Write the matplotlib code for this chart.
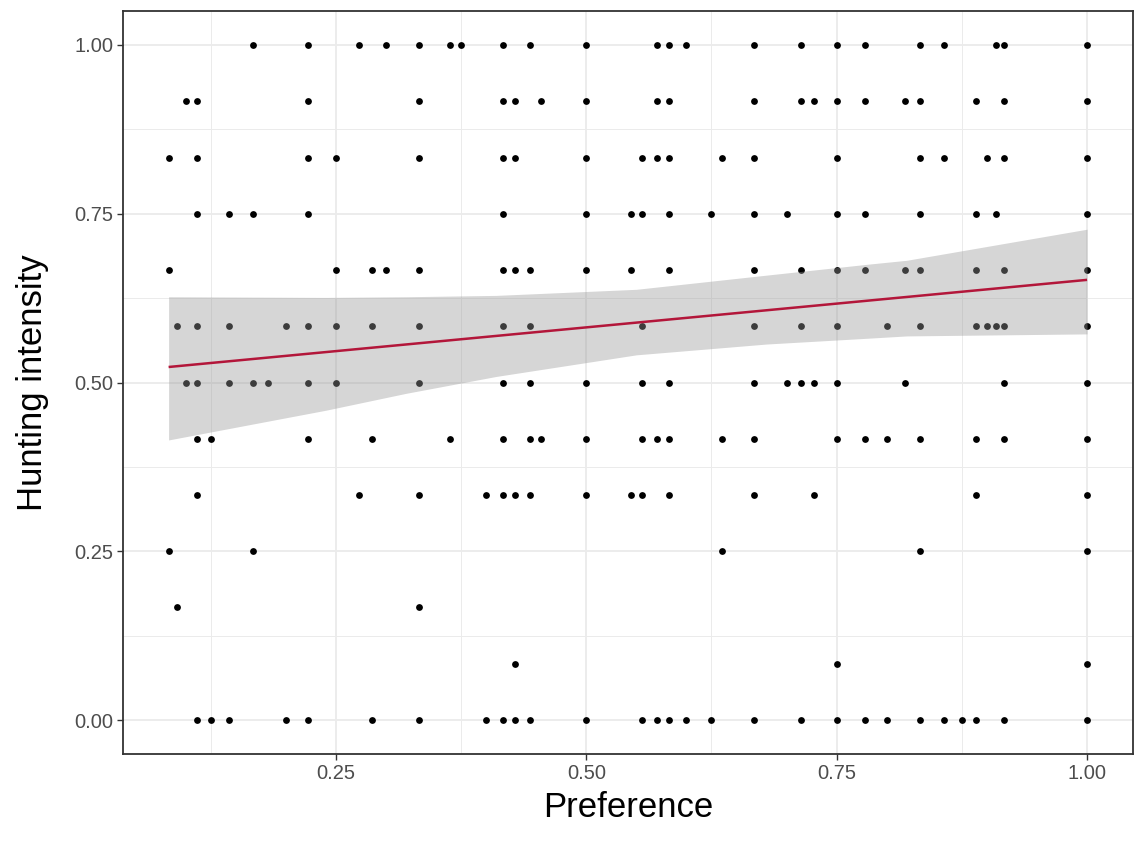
import numpy as np
import matplotlib
matplotlib.use("Agg")
import matplotlib.pyplot as plt
from matplotlib.ticker import MultipleLocator

plt.rcParams['font.family'] = ['Liberation Sans', 'DejaVu Sans']

# ---- data: Preference (x) values observed at each Hunting intensity level (y) ----
x_at_1000 = [0.167, 0.222, 0.273, 0.3, 0.333, 0.364, 0.375, 0.417, 0.444, 0.5, 0.571, 0.583,
             0.6, 0.667, 0.714, 0.75, 0.778, 0.833, 0.857, 0.909, 0.917, 1.0]
x_at_0917 = [0.1, 0.111, 0.222, 0.333, 0.417, 0.429, 0.455, 0.5, 0.571, 0.583, 0.667, 0.714,
             0.727, 0.75, 0.778, 0.818, 0.833, 0.889, 0.917, 1.0]
x_at_0833 = [0.083, 0.111, 0.222, 0.25, 0.333, 0.417, 0.429, 0.5, 0.556, 0.571, 0.583, 0.636,
             0.667, 0.75, 0.833, 0.857, 0.9, 0.917, 1.0]
x_at_0750 = [0.111, 0.143, 0.167, 0.222, 0.417, 0.5, 0.545, 0.556, 0.583, 0.625, 0.667, 0.7,
             0.75, 0.778, 0.833, 0.889, 0.909, 1.0]
x_at_0667 = [0.083, 0.25, 0.286, 0.3, 0.333, 0.417, 0.429, 0.444, 0.5, 0.545, 0.583, 0.667,
             0.714, 0.75, 0.778, 0.818, 0.833, 0.889, 0.917, 1.0]
x_at_0583 = [0.091, 0.111, 0.143, 0.2, 0.222, 0.25, 0.286, 0.333, 0.417, 0.444, 0.556, 0.667,
             0.714, 0.75, 0.8, 0.833, 0.889, 0.9, 0.909, 0.917, 1.0]
x_at_0500 = [0.1, 0.111, 0.143, 0.167, 0.182, 0.222, 0.25, 0.333, 0.417, 0.444, 0.5, 0.556,
             0.583, 0.667, 0.7, 0.714, 0.727, 0.75, 0.818, 0.917, 1.0]
x_at_0417 = [0.111, 0.125, 0.222, 0.286, 0.364, 0.417, 0.444, 0.455, 0.5, 0.556, 0.571, 0.583,
             0.636, 0.667, 0.75, 0.778, 0.8, 0.833, 0.889, 0.917, 1.0]
x_at_0333 = [0.111, 0.273, 0.333, 0.4, 0.417, 0.429, 0.444, 0.5, 0.545, 0.556, 0.583, 0.667,
             0.727, 0.889, 1.0]
x_at_0250 = [0.083, 0.167, 0.636, 0.833, 1.0]
x_at_0167 = [0.091, 0.333]
x_at_0083 = [0.429, 0.75, 1.0]
x_at_0000 = [0.111, 0.125, 0.143, 0.2, 0.222, 0.286, 0.333, 0.4, 0.417, 0.429, 0.444, 0.5,
             0.556, 0.571, 0.583, 0.6, 0.625, 0.667, 0.714, 0.75, 0.778, 0.8, 0.833, 0.857,
             0.875, 0.889, 0.917, 1.0]

intensity_levels = [1.0, 0.917, 0.833, 0.75, 0.667, 0.583, 0.5, 0.417, 0.333, 0.25, 0.167, 0.083, 0.0]
rows = [x_at_1000, x_at_0917, x_at_0833, x_at_0750, x_at_0667, x_at_0583, x_at_0500,
        x_at_0417, x_at_0333, x_at_0250, x_at_0167, x_at_0083, x_at_0000]

# fitted linear trend and its confidence band
fit_x = [0.083, 1.0]
fit_y = [0.523, 0.652]
band_x = [0.083, 0.24, 0.32, 0.41, 0.55, 0.68, 0.78, 0.82, 1.0]
band_upper = [0.627, 0.626, 0.627, 0.629, 0.638, 0.659, 0.675, 0.681, 0.727]
band_lower = [0.415, 0.459, 0.484, 0.509, 0.541, 0.557, 0.5655, 0.569, 0.572]

x_ticks = [0.25, 0.50, 0.75, 1.00]
y_ticks = [0.00, 0.25, 0.50, 0.75, 1.00]
x_tick_labels = ["0.25", "0.50", "0.75", "1.00"]
y_tick_labels = ["0.00", "0.25", "0.50", "0.75", "1.00"]

# ---- figure ----
px_x = np.concatenate([np.asarray(r, float) for r in rows])
px_y = np.concatenate([np.full(len(r), lvl) for r, lvl in zip(rows, intensity_levels)])

fig = plt.figure(figsize=(11.36, 8.48), dpi=100)
ax = fig.add_axes([0.1083, 0.1108, 0.889, 0.8762])

ax.scatter(px_x, px_y, s=24, c='black', linewidths=0, zorder=3)
ax.fill_between(band_x, band_lower, band_upper, color='#999999', alpha=0.4,
                linewidth=0, zorder=4)
ax.plot(fit_x, fit_y, color='#B3163A', linewidth=1.8, zorder=5, solid_capstyle='butt')

ax.set_xlim(0.0375, 1.0458)
ax.set_ylim(-0.05, 1.05)
ax.set_xticks(x_ticks)
ax.set_xticklabels(x_tick_labels)
ax.set_yticks(y_ticks)
ax.set_yticklabels(y_tick_labels)
ax.xaxis.set_minor_locator(MultipleLocator(0.125))
ax.yaxis.set_minor_locator(MultipleLocator(0.125))

ax.grid(which='major', color='#EBEBEB', linewidth=1.3, zorder=0)
ax.grid(which='minor', color='#EBEBEB', linewidth=0.7, zorder=0)
ax.set_axisbelow(True)

for sp in ax.spines.values():
    sp.set_color('#333333')
    sp.set_linewidth(1.3)

ax.tick_params(which='major', length=4, width=1.0, color='#333333',
               labelsize=14.5, labelcolor='#4D4D4D', pad=3)
ax.tick_params(which='minor', length=0)

ax.set_xlabel('Preference', fontsize=25, color='black', labelpad=6)
ax.set_ylabel('Hunting intensity', fontsize=25, color='black', labelpad=18)

fig.savefig('out.png', dpi=100, facecolor='white')
